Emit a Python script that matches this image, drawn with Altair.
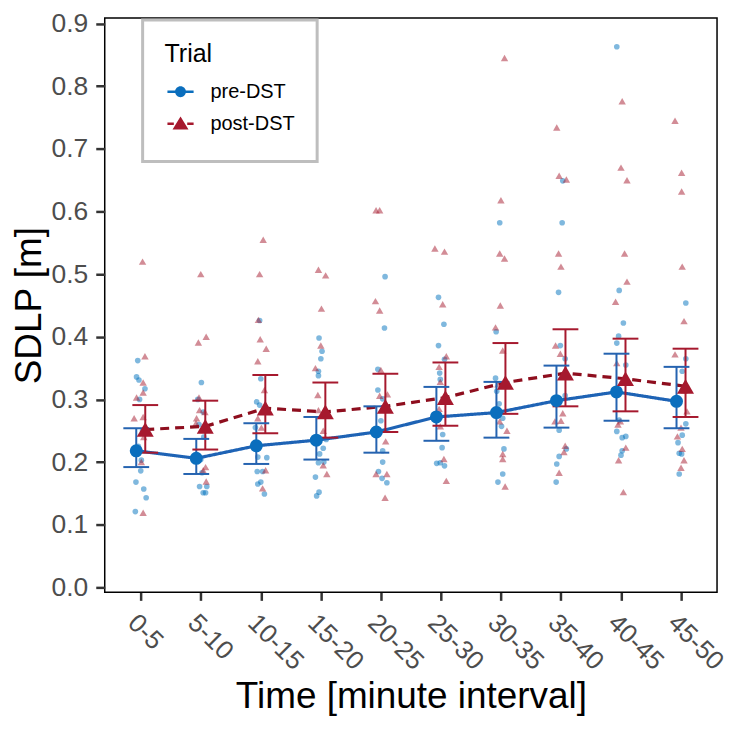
import altair as alt
import pandas as pd
import json

intervals = ["0-5", "5-10", "10-15", "15-20", "20-25", "25-30", "30-35", "35-40", "40-45", "45-50"]
trials = ["pre-DST", "post-DST"]

pre_mean = [0.218, 0.206, 0.226, 0.235, 0.248, 0.272, 0.279, 0.298, 0.312, 0.297]
pre_lo = [0.192, 0.181, 0.197, 0.204, 0.215, 0.234, 0.239, 0.255, 0.266, 0.254]
pre_hi = [0.254, 0.237, 0.262, 0.272, 0.289, 0.320, 0.328, 0.354, 0.373, 0.352]
post_mean = [0.252, 0.257, 0.286, 0.280, 0.289, 0.303, 0.327, 0.342, 0.333, 0.321]
post_lo = [0.215, 0.220, 0.246, 0.239, 0.248, 0.258, 0.277, 0.289, 0.281, 0.272]
post_hi = [0.291, 0.298, 0.339, 0.327, 0.341, 0.359, 0.390, 0.412, 0.397, 0.381]

pre_points = [
    [0.362, 0.336, 0.331, 0.317, 0.300, 0.250, 0.225, 0.203, 0.186, 0.168, 0.157, 0.143, 0.121],
    [0.327, 0.300, 0.280, 0.260, 0.240, 0.204, 0.183, 0.161, 0.161, 0.151, 0.151],
    [0.426, 0.333, 0.296, 0.291, 0.255, 0.208, 0.207, 0.185, 0.185, 0.168, 0.165, 0.149],
    [0.398, 0.377, 0.365, 0.345, 0.338, 0.236, 0.222, 0.213, 0.200, 0.199, 0.176, 0.152, 0.146],
    [0.496, 0.414, 0.348, 0.315, 0.301, 0.266, 0.218, 0.200, 0.185, 0.174, 0.167],
    [0.463, 0.420, 0.386, 0.364, 0.342, 0.332, 0.244, 0.223, 0.198, 0.199, 0.194],
    [0.582, 0.408, 0.334, 0.313, 0.293, 0.270, 0.257, 0.221, 0.181, 0.168],
    [0.649, 0.582, 0.471, 0.386, 0.365, 0.306, 0.251, 0.221, 0.209, 0.197, 0.168],
    [0.863, 0.474, 0.422, 0.401, 0.390, 0.355, 0.267, 0.249, 0.241, 0.239, 0.218, 0.211],
    [0.454, 0.365, 0.345, 0.301, 0.261, 0.243, 0.231, 0.214, 0.213, 0.181],
]
pre_jitter = [
    [-0.05, -0.07, -0.03, 0.07, -0.02, 0.03, -0.04, 0.01, 0.00, -0.08, 0.05, 0.09, -0.09],
    [0.01, -0.05, 0.04, -0.03, 0.05, 0.00, 0.02, -0.02, 0.10, 0.04, 0.08],
    [-0.02, 0.00, -0.07, -0.02, -0.09, -0.05, 0.10, -0.06, 0.03, 0.00, -0.05, 0.06],
    [-0.03, 0.02, 0.00, -0.04, -0.04, 0.09, 0.04, -0.02, 0.05, -0.04, -0.09, -0.03, -0.07],
    [0.07, 0.06, -0.05, -0.05, 0.03, 0.00, 0.03, 0.03, -0.04, 0.02, 0.10],
    [-0.04, 0.05, -0.04, 0.06, -0.02, -0.01, 0.03, 0.02, -0.07, -0.01, 0.06],
    [-0.02, -0.08, -0.09, -0.07, -0.03, 0.03, 0.01, 0.05, 0.03, -0.05],
    [0.03, 0.02, -0.04, -0.01, 0.07, 0.07, -0.03, 0.09, -0.03, -0.07, -0.08],
    [-0.07, -0.03, 0.04, -0.04, -0.07, 0.08, -0.03, -0.07, 0.08, 0.02, 0.02, 0.00],
    [0.08, 0.08, 0.02, -0.11, 0.08, 0.02, -0.05, -0.03, 0.01, -0.03],
]
post_points = [
    [0.520, 0.369, 0.327, 0.311, 0.303, 0.272, 0.270, 0.240, 0.220, 0.200, 0.119],
    [0.500, 0.400, 0.391, 0.303, 0.283, 0.280, 0.270, 0.262, 0.192, 0.187, 0.169],
    [0.555, 0.500, 0.427, 0.396, 0.381, 0.361, 0.315, 0.270, 0.255, 0.187, 0.158],
    [0.507, 0.498, 0.445, 0.386, 0.350, 0.307, 0.283, 0.250, 0.195, 0.181],
    [0.602, 0.602, 0.457, 0.442, 0.347, 0.308, 0.306, 0.233, 0.181, 0.181, 0.143],
    [0.541, 0.536, 0.452, 0.369, 0.352, 0.328, 0.285, 0.257, 0.205, 0.170],
    [0.845, 0.618, 0.533, 0.525, 0.450, 0.415, 0.378, 0.324, 0.265, 0.250, 0.213, 0.205, 0.161],
    [0.734, 0.657, 0.651, 0.533, 0.512, 0.386, 0.373, 0.278, 0.266, 0.265, 0.226, 0.216, 0.183],
    [0.776, 0.670, 0.650, 0.533, 0.488, 0.456, 0.358, 0.265, 0.260, 0.223, 0.203, 0.152],
    [0.745, 0.662, 0.632, 0.512, 0.425, 0.372, 0.314, 0.281, 0.255, 0.241, 0.221, 0.203, 0.191],
]
post_jitter = [
    [0.03, 0.07, 0.04, 0.04, -0.07, 0.04, -0.11, 0.05, 0.00, 0.01, 0.04],
    [0.00, 0.09, -0.04, -0.03, -0.02, 0.07, -0.07, -0.08, 0.08, 0.04, 0.09],
    [0.04, -0.02, -0.04, -0.01, 0.09, -0.05, 0.06, -0.05, 0.01, 0.08, 0.03],
    [-0.04, 0.08, 0.01, 0.00, -0.09, -0.05, -0.04, 0.04, 0.04, 0.10],
    [-0.08, -0.02, -0.09, -0.02, 0.00, 0.11, -0.02, 0.08, -0.08, 0.10, 0.07],
    [-0.10, 0.06, 0.03, 0.09, -0.03, -0.01, -0.03, -0.01, 0.05, 0.09],
    [0.06, 0.00, -0.02, 0.06, -0.01, -0.09, 0.03, -0.05, -0.02, 0.10, 0.03, 0.03, 0.07],
    [-0.07, -0.03, 0.09, -0.04, 0.00, -0.09, -0.01, 0.03, 0.00, -0.10, 0.07, 0.05, -0.03],
    [0.02, 0.00, 0.10, 0.06, 0.10, -0.09, -0.07, -0.01, -0.05, 0.08, -0.04, 0.04],
    [-0.10, 0.01, 0.01, 0.02, 0.05, -0.10, 0.05, 0.10, 0.00, -0.06, 0.02, 0.05, 0.00],
]

y_ticks = [0.0, 0.1, 0.2, 0.3, 0.4, 0.5, 0.6, 0.7, 0.8, 0.9]

# ---- build tables ----
pt_rows = []
for trial, pts, jits in [("pre-DST", pre_points, pre_jitter), ("post-DST", post_points, post_jitter)]:
    for i in range(len(intervals)):
        for v, j in zip(pts[i], jits[i]):
            pt_rows.append({"Trial": trial, "idx": i + 1, "jit": j, "SDLP": v})
points_df = pd.DataFrame(pt_rows)

mean_rows = []
for trial, m, lo, hi, dodge in [("pre-DST", pre_mean, pre_lo, pre_hi, -0.075),
                                ("post-DST", post_mean, post_lo, post_hi, 0.075)]:
    for i in range(len(intervals)):
        mean_rows.append({"Trial": trial, "idx": i + 1, "dodge": dodge,
                          "mean": m[i], "lo": lo[i], "hi": hi[i]})
means_df = pd.DataFrame(mean_rows)

FONT = "Liberation Sans"
label_js = json.dumps(intervals)

x_scale = alt.Scale(domain=[0.4, 10.6], nice=False, zero=False)
y_scale = alt.Scale(domain=[-0.008, 0.909], nice=False, zero=False)
x_axis = alt.Axis(values=list(range(1, 11)), labelExpr=f"{label_js}[datum.value - 1]",
                  labelAngle=45, labelAlign="left", labelBaseline="top", labelOverlap=False,
                  labelFontSize=26, labelColor="#4D4D4D", labelFont=FONT, labelPadding=9,
                  tickSize=8, tickWidth=2.5, tickColor="#333333", domain=False, grid=False,
                  title="Time [minute interval]", titleFontSize=37, titleFont=FONT,
                  titleColor="black", titleFontWeight="normal", titlePadding=4)
y_axis = alt.Axis(values=y_ticks, format=".1f", labelFontSize=26.5, labelColor="#4D4D4D",
                  labelFont=FONT, labelPadding=8, tickSize=9, tickWidth=2.5,
                  tickColor="#333333", domain=False, grid=False, title="SDLP [m]",
                  titleFontSize=37, titleFont=FONT, titleColor="black",
                  titleFontWeight="normal", titlePadding=3)

X_PTS = alt.X("xp:Q", scale=x_scale, axis=x_axis)
X_M = alt.X("xm:Q", scale=x_scale, axis=x_axis)

col_pts = alt.Color("Trial:N", scale=alt.Scale(domain=trials, range=["#0072BD", "#A6192E"]), legend=None)
col_bar = alt.Color("Trial:N", scale=alt.Scale(domain=trials, range=["#2563B0", "#A6192E"]), legend=None)
col_line = alt.Color("Trial:N", scale=alt.Scale(domain=trials, range=["#1E63B5", "#8E0E1E"]), legend=None)
col_mean = alt.Color("Trial:N", scale=alt.Scale(domain=trials, range=["#0A6EBD", "#A6192E"]), legend=None)

pts_layer = alt.Chart(points_df).transform_calculate(
    xp="datum.idx + datum.jit"
).mark_point(filled=True, opacity=0.5, strokeWidth=0).encode(
    x=X_PTS,
    y=alt.Y("SDLP:Q", scale=y_scale, axis=y_axis),
    color=col_pts,
    shape=alt.Shape("Trial:N", scale=alt.Scale(domain=trials, range=["circle", "triangle-up"]), legend=None),
    size=alt.Size("Trial:N", scale=alt.Scale(domain=trials, range=[32, 55]), legend=None),
)

mbase = alt.Chart(means_df).transform_calculate(
    xm="datum.idx + datum.dodge",
    xl="datum.idx + datum.dodge - 0.215",
    xr="datum.idx + datum.dodge + 0.215",
)

line_layer = mbase.mark_line(strokeWidth=3.2).encode(
    x=X_M,
    y=alt.Y("mean:Q", scale=y_scale, axis=y_axis),
    color=col_line,
    strokeDash=alt.StrokeDash("Trial:N", scale=alt.Scale(domain=trials, range=[[1, 0], [9, 6]]), legend=None),
    detail="Trial:N",
)

bar_layer = mbase.mark_rule(strokeWidth=2).encode(
    x=X_M,
    y=alt.Y("lo:Q", scale=y_scale, axis=y_axis),
    y2="hi:Q",
    color=col_bar,
)
cap_lo = mbase.mark_rule(strokeWidth=2).encode(
    x=alt.X("xl:Q", scale=x_scale, axis=x_axis), x2="xr:Q",
    y=alt.Y("lo:Q", scale=y_scale, axis=y_axis), color=col_bar,
)
cap_hi = mbase.mark_rule(strokeWidth=2).encode(
    x=alt.X("xl:Q", scale=x_scale, axis=x_axis), x2="xr:Q",
    y=alt.Y("hi:Q", scale=y_scale, axis=y_axis), color=col_bar,
)

mean_layer = mbase.mark_point(filled=True, opacity=1, strokeWidth=0).encode(
    x=X_M,
    y=alt.Y("mean:Q", scale=y_scale, axis=y_axis),
    color=col_mean,
    shape=alt.Shape("Trial:N", scale=alt.Scale(domain=trials, range=["circle", "triangle-up"]), legend=None),
    size=alt.Size("Trial:N", scale=alt.Scale(domain=trials, range=[170, 290]), legend=None),
)

# legend keys: symbol box is 32 px (1 unit = 16 px); zero-area points at y=+-1 keep the key 32 px tall
pre_key = ("M0,-1L0,-1Z M0,1L0,1Z "
           "M-0.82,-0.08H0.82V0.08H-0.82Z "
           "M-0.34,0A0.34,0.34 0 1,1 0.34,0A0.34,0.34 0 1,1 -0.34,0Z")
post_key = ("M0,-1L0,-1Z M0,1L0,1Z "
            "M-0.82,-0.08H-0.42V0.08H-0.82Z M0.42,-0.08H0.82V0.08H0.42Z "
            "M0,-0.45L0.5,0.37L-0.5,0.37Z")

legend_layer = mbase.mark_point(filled=True, opacity=0, size=1024).encode(
    x=X_M,
    y=alt.Y("mean:Q", scale=y_scale, axis=y_axis),
    color=alt.Color("Trial:N", scale=alt.Scale(domain=trials, range=["#0A6EBD", "#A6192E"]),
                    legend=alt.Legend(title="Trial")),
    shape=alt.Shape("Trial:N", scale=alt.Scale(domain=trials, range=[pre_key, post_key]),
                    legend=alt.Legend(title="Trial")),
)

chart = alt.layer(
    pts_layer, line_layer, bar_layer, cap_lo, cap_hi, mean_layer, legend_layer
).resolve_scale(
    color="independent", shape="independent", size="independent", strokeDash="independent"
).properties(
    width=614, height=576, padding={"left": 2, "top": 1, "right": 2, "bottom": 2}
).configure_view(
    stroke="black", strokeWidth=1.5
).configure_legend(
    orient="none", legendX=38, legendY=2, padding=22,
    strokeColor="#BEBEBE", strokeWidth=3, fillColor="white",
    titleFont=FONT, titleFontSize=25, titleFontWeight="normal", titleColor="black",
    titlePadding=9, labelFont=FONT, labelFontSize=20, labelColor="black",
    labelOffset=14, symbolSize=1024, symbolOpacity=1, rowPadding=-2,
    symbolStrokeWidth=0
)

chart.save("out.html", embed_options={"renderer": "svg", "actions": False})
